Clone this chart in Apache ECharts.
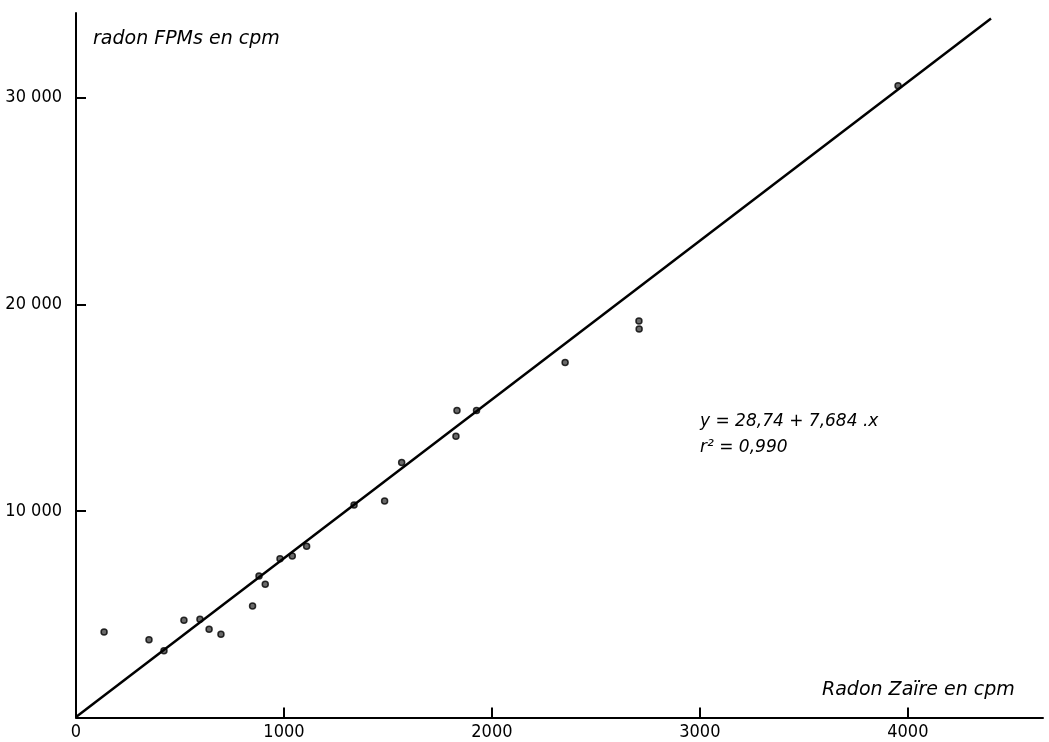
<!DOCTYPE html>
<html lang="fr">
<head>
    <meta charset="UTF-8">
    <title>Radon FPMs / Radon Zaïre</title>
    <style>
        html, body { margin: 0; padding: 0; background: #fff; }
        #main { width: 1049px; height: 742px; }
    </style>
</head>
<body>
    <div id="main"></div>

    <script src="https://cdn.jsdelivr.net/npm/echarts@6/dist/echarts.min.js"></script>
    <script type="text/javascript">
        // points mesurés : [radon Zaïre, radon FPMs] en cpm
        var zaire = [135, 351, 423, 519, 596, 640, 697, 849, 880, 910, 981, 1040, 1109,
                     1337, 1484, 1566, 1827, 1832, 1926, 2352, 2707, 2708, 3953];
        var fpms = [4136, 3768, 3235, 4706, 4755, 4270, 4028, 5400, 6852, 6450, 7690, 7821, 8290,
                    10290, 10484, 12339, 13617, 14857, 14857, 17182, 19187, 18799, 30581];
        // droite de régression y = 28,74 + 7,684.x (extrémités)
        var regX = [0, 4400];
        var regY = [28.74, 33838];

        var xTicks = [0, 1000, 2000, 3000, 4000];
        var yTicks = [10000, 20000, 30000];

        var points = zaire.map(function (x, i) { return [x, fpms[i]]; });
        var regLine = regX.map(function (x, i) { return [x, regY[i]]; });

        var labelFont = '"DejaVu Sans Condensed", "DejaVu Sans", sans-serif';
        var nameFont = '"DejaVu Sans", sans-serif';

        var myChart = echarts.init(document.getElementById('main'));
        var option = {
            animation: false,
            backgroundColor: '#fff',
            grid: { left: 76, top: 13, right: 6, bottom: 24.5, containLabel: false },
            xAxis: {
                type: 'value',
                min: 0,
                max: 4650,
                interval: 1000,
                axisLine: { lineStyle: { color: '#000', width: 2 } },
                axisTick: { inside: true, length: 10, customValues: xTicks.slice(1),
                            lineStyle: { color: '#000', width: 2 } },
                splitLine: { show: false },
                axisLabel: {
                    color: '#000', fontFamily: labelFont, fontSize: 18, margin: 6,
                    customValues: xTicks,
                    formatter: function (v) { return String(v); }
                }
            },
            yAxis: {
                type: 'value',
                min: 0,
                max: 34100,
                interval: 10000,
                axisLine: { lineStyle: { color: '#000', width: 2 } },
                axisTick: { inside: true, length: 10, customValues: yTicks,
                            lineStyle: { color: '#000', width: 2 } },
                splitLine: { show: false },
                axisLabel: {
                    color: '#000', fontFamily: labelFont, fontSize: 18, margin: 14,
                    customValues: yTicks,
                    formatter: function (v) { return (v / 1000) + ' 000'; }
                }
            },
            graphic: [
                { type: 'text', left: 93, top: 30,
                  style: { text: 'radon FPMs en cpm', fontFamily: nameFont, fontStyle: 'italic', fontSize: 19, fill: '#000' } },
                { type: 'text', left: 822, top: 681,
                  style: { text: 'Radon Zaïre en cpm', fontFamily: nameFont, fontStyle: 'italic', fontSize: 19, fill: '#000' } },
                { type: 'text', left: 700, top: 413,
                  style: { text: 'y = 28,74 + 7,684 .x', fontFamily: nameFont, fontStyle: 'italic', fontSize: 17, fill: '#000' } },
                { type: 'text', left: 700, top: 439,
                  style: { text: 'r² = 0,990', fontFamily: nameFont, fontStyle: 'italic', fontSize: 17, fill: '#000' } }
            ],
            series: [
                {
                    name: 'régression',
                    type: 'line',
                    data: regLine,
                    symbol: 'none',
                    lineStyle: { color: '#000', width: 2.5 },
                    silent: true
                },
                {
                    name: 'mesures',
                    type: 'scatter',
                    data: points,
                    symbol: 'circle',
                    symbolSize: 6,
                    itemStyle: { color: '#444', borderColor: '#000', borderWidth: 1.5 }
                }
            ]
        };
        myChart.setOption(option);
    </script>
</body>
</html>
